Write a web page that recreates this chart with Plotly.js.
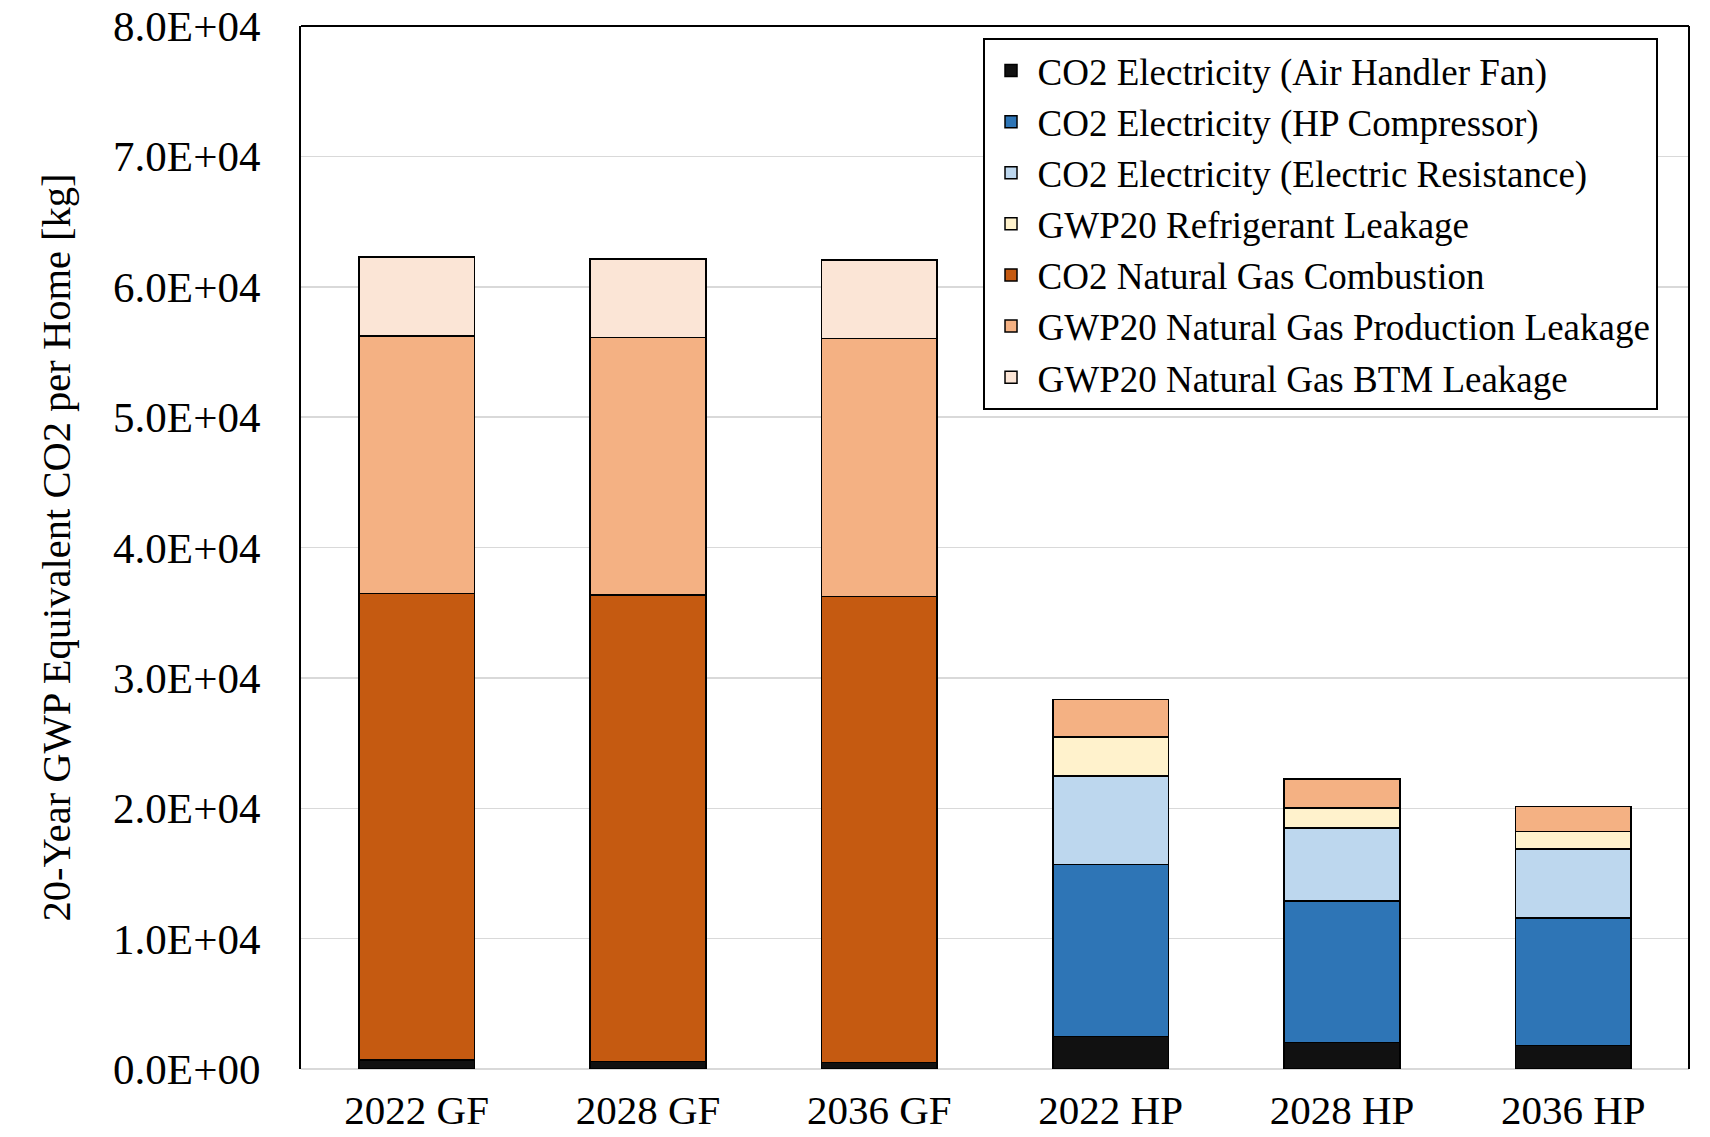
<!DOCTYPE html>
<html>
<head>
<meta charset="utf-8">
<script src="https://cdn.plot.ly/plotly-3.0.1.min.js"></script>
<style>html,body{margin:0;padding:0;background:#fff;}#chart{width:1710px;height:1137px;}</style>
</head>
<body>
<div id="chart"></div>
<script>
const categories = ["2022 GF", "2028 GF", "2036 GF", "2022 HP", "2028 HP", "2036 HP"];
const fanCO2          = [690, 560, 480, 2480, 2050, 1790];
const compressorCO2   = [0, 0, 0, 13220, 10830, 9810];
const resistanceCO2   = [0, 0, 0, 6790, 5600, 5290];
const refrigerantGWP  = [0, 0, 0, 2990, 1540, 1310];
const combustionCO2   = [35790, 35790, 35770, 0, 0, 0];
const productionGWP   = [19760, 19760, 19780, 2870, 2220, 1950];
const btmGWP          = [6050, 6010, 6010, 0, 0, 0];
const seriesNames = [
  "CO2 Electricity (Air Handler Fan)",
  "CO2 Electricity (HP Compressor)",
  "CO2 Electricity (Electric Resistance)",
  "GWP20 Refrigerant Leakage",
  "CO2 Natural Gas Combustion",
  "GWP20 Natural Gas Production Leakage",
  "GWP20 Natural Gas BTM Leakage"
];
const seriesColors = ["#111111", "#2E75B6", "#BDD7EE", "#FFF2CC", "#C55A11", "#F4B183", "#FBE5D6"];
const yTickVals = [0, 10000, 20000, 30000, 40000, 50000, 60000, 70000, 80000];
const yTickText = ["0.0E+00", "1.0E+04", "2.0E+04", "3.0E+04", "4.0E+04", "5.0E+04", "6.0E+04", "7.0E+04", "8.0E+04"];
const yTitle = "20-Year GWP Equivalent CO2 per Home [kg]";

const seriesValues = [fanCO2, compressorCO2, resistanceCO2, refrigerantGWP, combustionCO2, productionGWP, btmGWP];
const FONT = '"Liberation Serif", "Times New Roman", serif';

const traces = seriesValues.map((vals, i) => ({
  type: 'bar',
  name: seriesNames[i],
  x: categories,
  y: vals,
  marker: {color: seriesColors[i], line: {color: '#000000', width: 1.5}},
  hoverinfo: 'x+y+name'
}));

const layout = {
  width: 1710,
  height: 1137,
  paper_bgcolor: '#ffffff',
  plot_bgcolor: '#ffffff',
  barmode: 'stack',
  bargap: 0.5,
  margin: {l: 301, r: 21, t: 26, b: 68},
  font: {family: FONT, color: '#000000'},
  xaxis: {
    type: 'category',
    showgrid: false,
    showline: false,
    ticks: '',
    tickfont: {family: FONT, size: 41, color: '#000'},
    ticklabelstandoff: 13
  },
  yaxis: {
    range: [0, 80000],
    tickvals: yTickVals,
    ticktext: yTickText,
    showgrid: true,
    gridcolor: '#d9d9d9',
    gridwidth: 1.5,
    zeroline: true,
    zerolinecolor: '#d9d9d9',
    zerolinewidth: 1.5,
    showline: true,
    linecolor: '#000000',
    linewidth: 2,
    ticks: '',
    tickfont: {family: FONT, size: 43, color: '#000'},
    ticklabelstandoff: 30,
    title: {
      text: yTitle,
      font: {family: FONT, size: 40.5, color: '#000'},
      standoff: 30
    }
  },
  legend: {
    x: 0.491,
    y: 0.9885,
    xanchor: 'left',
    yanchor: 'top',
    traceorder: 'normal',
    bgcolor: '#ffffff',
    bordercolor: '#000000',
    borderwidth: 2,
    itemwidth: 43,
    font: {family: FONT, size: 37, color: '#000'},
    tracegroupgap: 0
  },
  shapes: [
    {type: 'line', xref: 'paper', yref: 'paper', x0: 0, x1: 1, y0: 1, y1: 1, line: {color: '#000', width: 2}},
    {type: 'line', xref: 'paper', yref: 'paper', x0: 1, x1: 1, y0: 0, y1: 1, line: {color: '#000', width: 2}}
  ]
};

Plotly.newPlot('chart', traces, layout, {displayModeBar: false, staticPlot: true});
</script>
</body>
</html>
